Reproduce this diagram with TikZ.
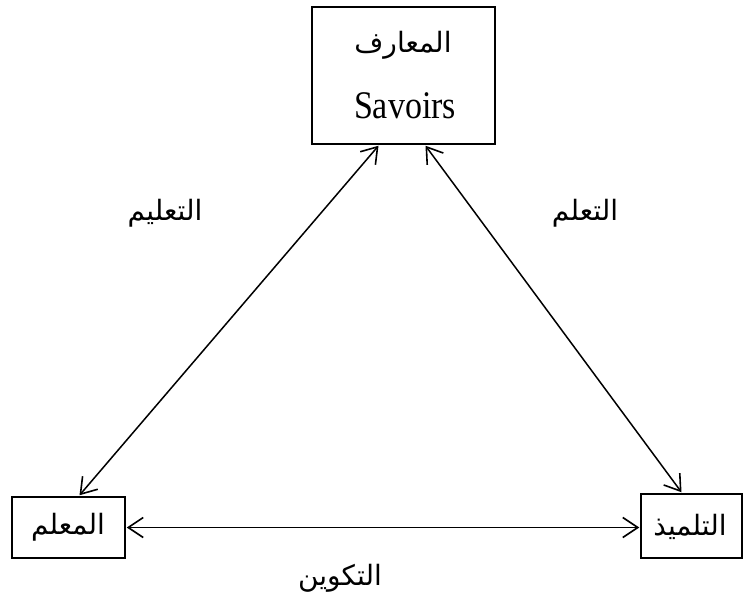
\documentclass[tikz,border=0pt]{standalone}
\usepackage{fontspec}
\setmainfont{Liberation Serif}
\newfontfamily\arabicfont[Script=Arabic]{DejaVu Sans}
\TeXXeTstate=1
\usetikzlibrary{arrows.meta}
\newcommand{\ar}[1]{{\arabicfont\beginR #1\endR}}
\tikzset{
  box/.style={draw, line width=1.5pt, inner sep=0pt},
  tip/.tip={Straight Barb[length=15pt,width=20pt,line width=1.6pt]},
  link/.style={line width=1.5pt, tip-tip},
  lbl/.style={font=\fontsize{28}{32}\selectfont, inner sep=0pt}
}
\begin{document}
\begin{tikzpicture}[x=1pt,y=-1pt]
\useasboundingbox (0,0) rectangle (745,599);
% the three boxes
\node[box, minimum width=183pt, minimum height=137pt] (sav) at (403.5,75.5) {};
\node[lbl] (t1) at (403,45) {\ar{المعارف}};
\node[lbl, font=\fontsize{34}{38}\selectfont] (t2) at (405,106) {\scalebox{1}[1.15]{Savoirs}};
\node[box, minimum width=113pt, minimum height=61pt] (ens) at (68.5,527.5) {};
\node[lbl] at (68,527) {\ar{المعلم}};
\node[box, minimum width=101pt, minimum height=64pt] (elv) at (691.5,526) {};
\node[lbl] at (690,527) {\ar{التلميذ}};
% arrow end points on the box edges
\coordinate (a1) at ([xshift=-25pt,yshift=-1pt]sav.south);
\coordinate (b1) at ([xshift=11pt,yshift=1pt]ens.north);
\coordinate (a2) at ([xshift=22pt,yshift=-1pt]sav.south);
\coordinate (b2) at ([xshift=-10pt,yshift=1pt]elv.north);
\draw[link] (a1) -- (b1);
\draw[link] (a2) -- (b2);
\draw[link] ([xshift=1pt]ens.east) -- ([xshift=-1pt]ens.east -| elv.west);
% labels on the connectors
\node[lbl] at (165,213) {\ar{التعليم}};
\node[lbl] at (585,213) {\ar{التعلم}};
\node[lbl] at (340,578) {\ar{التكوين}};
\end{tikzpicture}
\end{document}
